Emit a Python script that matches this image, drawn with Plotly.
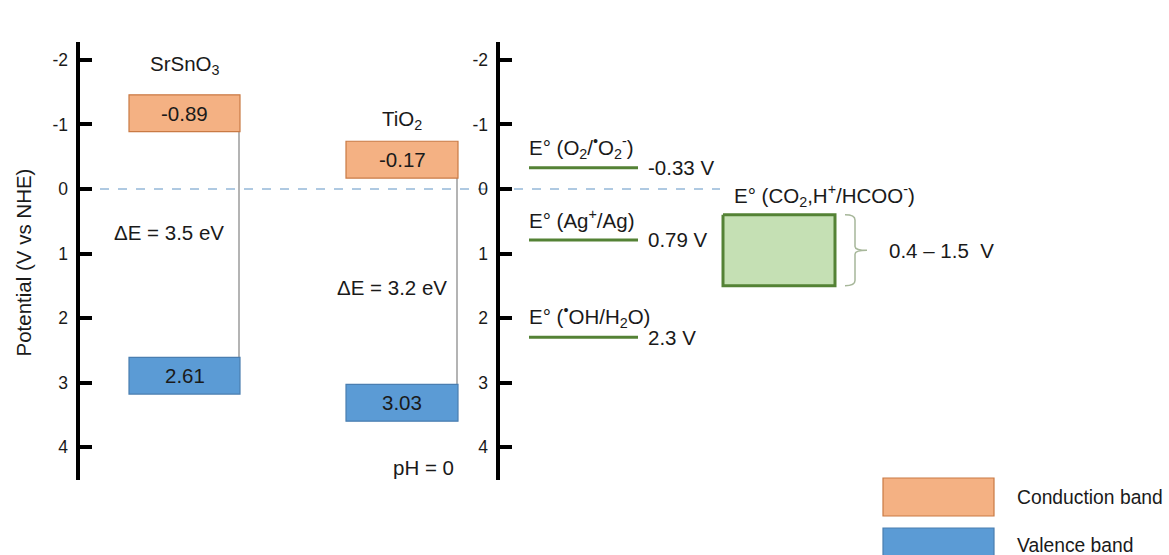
import plotly.graph_objects as go

# ---- band-edge data (V vs NHE, pH = 0) ----
materials = ["SrSnO<sub>3</sub>", "TiO<sub>2</sub>"]
cb_edge = [-0.89, -0.17]
vb_edge = [2.61, 3.03]
band_gap = [3.5, 3.2]

# ---- reference redox couples (V vs NHE) ----
redox_labels = [
    "E° (O<sub>2</sub>/<sup>•</sup>O<sub>2</sub><sup>-</sup>)",
    "E° (Ag<sup>+</sup>/Ag)",
    "E° (<sup>•</sup>OH/H<sub>2</sub>O)",
]
redox_potential = [-0.33, 0.79, 2.3]

co2_label = "E° (CO<sub>2</sub>,H<sup>+</sup>/HCOO<sup>-</sup>)"
co2_range = [0.4, 1.5]

tick_values = [-2, -1, 0, 1, 2, 3, 4]
tick_labels = ["-2", "-1", "0", "1", "2", "3", "4"]

legend_names = ["Conduction band", "Valence band"]

# ---- layout constants ----
W, H = 1169, 555
Y_TOP, Y_BOT = -2.93, 5.674          # visible potential range (top, bottom)
AX1_X, AX2_X = 78, 498               # x of the two potential axes
AX_SPAN = (-2.28, 4.51)              # drawn extent of the axis lines
BOX_H = 0.57                         # height of a band box (V)
BOX_X = [(129, 240), (346, 458)]     # horizontal extent of each material column
MAT_LABEL_Y = [-1.92, -1.07]
GAP_LABEL_POS = [(169, 0.68), (392, 1.52)]
REDOX_X = (529, 638)
CO2_X = (723, 835)

FONT = "Liberation Sans, Arial, sans-serif"
TXT = "#1a1a1a"
FS = 20.5
CB_FILL, CB_LINE = "#f4b183", "#c97a44"
VB_FILL, VB_LINE = "#5b9bd5", "#4a7eb0"
GREEN_FILL, GREEN_LINE = "#c5e0b4", "#548235"

fig = go.Figure()
shapes = []
annotations = []


def note(x, y, text, size=FS, xanchor="center", yanchor="middle", yref="y", **kw):
    annotations.append(dict(x=x, y=y, xref="x", yref=yref, text=text, showarrow=False,
                            xanchor=xanchor, yanchor=yanchor,
                            font=dict(family=FONT, size=size, color=TXT), **kw))


# axis lines
for ax_x in (AX1_X, AX2_X):
    shapes.append(dict(type="line", xref="x", yref="y", x0=ax_x, x1=ax_x,
                       y0=AX_SPAN[0], y1=AX_SPAN[1], line=dict(color="black", width=4)))

# NHE zero reference line
shapes.append(dict(type="line", xref="x", yref="y", x0=82, x1=720, y0=0, y1=0,
                   line=dict(color="#5f93c4", width=1, dash="dash"), layer="below"))

# semiconductor band boxes
for i, name in enumerate(materials):
    x0, x1 = BOX_X[i]
    cb, vb = cb_edge[i], vb_edge[i]
    shapes.append(dict(type="line", xref="x", yref="y", x0=x1 - 1, x1=x1 - 1, y0=cb, y1=vb,
                       line=dict(color="#8c8c8c", width=1.3)))
    shapes.append(dict(type="rect", xref="x", yref="y", x0=x0, x1=x1, y0=cb - BOX_H, y1=cb,
                       fillcolor=CB_FILL, line=dict(color=CB_LINE, width=1.2)))
    shapes.append(dict(type="rect", xref="x", yref="y", x0=x0, x1=x1, y0=vb, y1=vb + BOX_H,
                       fillcolor=VB_FILL, line=dict(color=VB_LINE, width=1.2)))
    cx = (x0 + x1) / 2
    note(cx, cb - BOX_H / 2, f"{cb:.2f}")
    note(cx, vb + BOX_H / 2, f"{vb:.2f}")
    note(cx, MAT_LABEL_Y[i], name)
    gx, gy = GAP_LABEL_POS[i]
    note(gx, gy, f"ΔE = {band_gap[i]:g} eV")

note(423, 4.31, "pH = 0")

# redox potential levels (second axis)
fig.add_trace(go.Scatter(
    x=[v for _ in redox_potential for v in (REDOX_X[0], REDOX_X[1], None)],
    y=[v for p in redox_potential for v in (p, p, None)],
    mode="lines", line=dict(color=GREEN_LINE, width=3),
    yaxis="y2", hoverinfo="skip", showlegend=False))
for label, pot in zip(redox_labels, redox_potential):
    note(REDOX_X[0] - 2, pot - 0.32, label, xanchor="left", yref="y2")
    note(REDOX_X[1] + 8, pot, f"{pot:g} V", xanchor="left", yref="y2")

# CO2 reduction window
lo, hi = co2_range
fig.add_trace(go.Scatter(
    x=[CO2_X[0], CO2_X[1], CO2_X[1], CO2_X[0], CO2_X[0]],
    y=[lo, lo, hi, hi, lo], mode="lines", fill="toself",
    fillcolor=GREEN_FILL, line=dict(color=GREEN_LINE, width=3),
    yaxis="y2", hoverinfo="skip", showlegend=False))
mid = (lo + hi) / 2
bx0, bx1, bx2 = 845, 855, 867
shapes.append(dict(
    type="path", xref="x", yref="y2",
    path=(f"M {bx0},{lo} Q {bx1},{lo} {bx1},{lo + 0.08} L {bx1},{mid - 0.06} "
          f"Q {bx1},{mid} {bx2},{mid} Q {bx1},{mid} {bx1},{mid + 0.06} "
          f"L {bx1},{hi - 0.08} Q {bx1},{hi} {bx0},{hi}"),
    line=dict(color="#a7b79a", width=1.5)))
note(732, lo - 0.3, co2_label, xanchor="left", yref="y2")
note(887, mid, f"{lo:g} – {hi:g}\u00a0\u00a0V", xanchor="left", yref="y2")

# axis title
note(24, 1.14, "Potential (V vs NHE)", textangle=-90)

# legend swatches
legend_rows = [(478, 516, CB_FILL, CB_LINE, 497), (528, 566, VB_FILL, VB_LINE, 545)]
for name, (top, bot, fill, edge, ty) in zip(legend_names, legend_rows):
    shapes.append(dict(type="rect", xref="x", yref="paper", x0=883, x1=994,
                       y0=1 - bot / H, y1=1 - top / H, fillcolor=fill,
                       line=dict(color=edge, width=1.2)))
    note(1015, 1 - ty / H, name, size=19.3, xanchor="left", yref="paper")

axis_common = dict(
    range=[Y_BOT, Y_TOP], anchor="free", tickmode="array",
    tickvals=tick_values, ticktext=tick_labels, ticks="inside", ticklen=13,
    tickwidth=4, tickcolor="black", showline=False, showgrid=False,
    zeroline=False, ticklabelstandoff=10, fixedrange=True,
    tickfont=dict(family=FONT, size=17.5, color=TXT),
)

fig.update_layout(
    width=W, height=H, margin=dict(l=0, r=0, t=0, b=0),
    paper_bgcolor="white", plot_bgcolor="white",
    showlegend=False,
    xaxis=dict(range=[0, W], visible=False, domain=[0, 1], fixedrange=True),
    yaxis=dict(position=AX1_X / W, **axis_common),
    yaxis2=dict(position=AX2_X / W, overlaying="y", **axis_common),
    shapes=shapes, annotations=annotations,
)

fig.write_html("out.html")
